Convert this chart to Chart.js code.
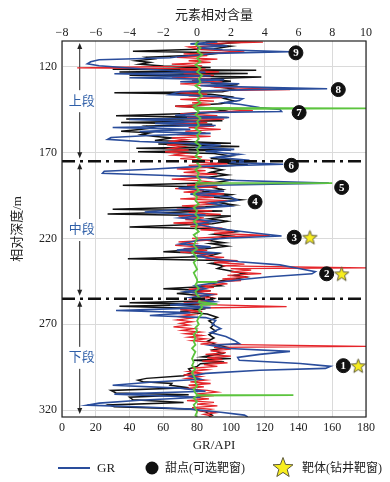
<!DOCTYPE html>
<html>
<head>
<meta charset="utf-8">
<script src="https://cdn.jsdelivr.net/npm/chart.js@4.4.0/dist/chart.umd.min.js"></script>
<style>
  html, body { margin: 0; padding: 0; background: #fff; }
</style>
</head>
<body>
<canvas id="chart" width="390" height="482"></canvas>
<script>
const SERIF = "'Liberation Serif', 'Times New Roman', 'Noto Sans CJK SC', serif";
const CJK = "'Liberation Serif', 'Noto Sans CJK SC', sans-serif";

// axis ticks
const depthTicks = [120, 170, 220, 270, 320];

// GR log (bottom axis, API) against depth (m)
const grDepth = [104.9,105.5,106.7,107.8,108.9,110.1,111.3,112.2,113.0,114.0,
  114.8,115.9,117.1,118.3,119.4,121.2,122.3,123.2,124.1,125.2,
  126.4,127.5,128.7,129.9,131.0,131.6,132.8,133.3,134.5,136.2,
  137.4,138.6,139.7,140.9,142.0,143.8,144.9,146.1,146.7,148.4,
  149.6,150.7,151.9,153.0,154.2,155.4,156.5,157.7,158.8,160.0,
  161.2,162.3,163.5,164.6,165.8,167.0,168.1,169.3,171.0,172.8,
  174.5,175.7,176.8,178.0,179.7,180.9,182.0,183.2,184.3,186.1,
  187.8,189.0,190.7,192.5,194.2,195.9,197.7,199.4,201.2,202.9,
  204.6,206.4,208.1,209.9,211.6,213.3,215.1,216.8,218.6,219.7,
  220.9,223.2,224.9,226.7,228.4,230.1,231.9,233.6,235.4,237.7,
  239.4,240.6,242.3,244.1,245.8,247.5,249.3,251.0,252.8,254.5,
  256.8,258.6,260.3,262.0,263.2,264.9,266.1,267.8,270.1,272.5,
  274.8,277.1,279.4,281.2,282.3,284.1,285.8,287.5,289.3,291.0,
  292.8,294.5,295.7,296.8,298.6,300.3,302.0,303.8,305.5,307.2,
  309.0,310.7,312.5,314.2,315.9,317.1,318.3,319.4,321.2,322.9,
  324];
const grValue = [85,92,76,98,80,95,135,90,82,70,
  64,22,17,15,22,46,67,85,31,88,
  40,96,70,105,82,99,157,111,70,64,
  94,107,105,96,106,117,129,130,82,67,
  99,40,82,55,91,30,76,46,88,52,
  29,27,46,76,94,79,102,85,105,91,
  111,99,131,82,52,25,24,58,85,99,
  158,90,69,96,76,100,104,88,99,73,
  49,85,70,91,79,88,99,114,130,99,
  82,70,88,68,91,79,90,105,129,141,
  150,148,123,105,91,79,85,73,88,76,
  90,64,88,32,76,52,85,91,89,94,
  88,97,102,105,88,99,135,117,104,105,
  141,159,156,117,85,76,82,52,30,70,
  85,31,82,46,22,15,52,76,94,108,
  110];

// element relative content (top axis), black curve
const blackDepth = [105,106,107,108,109.5,111,111.8,113,114.5,115.5,
  116.5,117.5,118.5,119.5,120.5,121.5,122,123,124,125,
  126,127,128.5,129.5,130.5,131.5,133,134.5,135.1,136,
  137.5,138.5,140,141.5,143,144,145.5,147,148.5,149.5,
  150.5,151.5,152.5,153.5,154.5,155.5,156.5,157.5,158.5,159.5,
  160.5,161.5,163,164.5,165,166.5,167.5,168.5,169.5,170.5,
  172,173.5,175,176,177,178.5,180,181.5,183,184.5,
  186,187.5,189,190,191.5,193,194.5,196,197.5,199,
  200.5,201.5,203,204,205.8,207,208.5,210,211.5,213.3,
  214.5,216,217.5,218.6,219.7,221,222.5,223,224.5,226,
  227.8,229,230.5,231.9,233,234.5,236,237.5,239,240.5,
  241.5,242.5,243.5,244.5,246,247.5,249.3,250.5,252,253.5,
  255,256.5,257.5,258.5,259.5,261,262.5,264,266,268,
  270,272,274,276,278,280,282,283.5,285,287,
  289,290,291,292,293,294.5,296,298,300,301.5,
  302.5,303.5,304.5,305.5,307,308.5,310,311,312.5,314,
  315.5,317,318,319.5,321,323,324];
const blackValue = [1.5,2.2,0.8,2.0,1.0,-3.8,1.5,0.5,-3.0,-2.6,
  -3.6,-2.8,-3.4,-2.0,0.8,-5.0,3.5,-4.6,3.0,-4.0,
  3.8,0.5,2.0,0.8,2.4,1.0,2.2,1.5,-4.9,0.8,
  2.0,1.6,2.2,1.4,-1.3,0.8,1.6,0.4,-4.8,1.8,
  -4.2,1.5,-4.5,0.9,-3.0,-2.6,-3.4,-4.5,-2.8,-3.3,
  -2.6,-1.5,-2.5,2.0,-2.3,2.5,-3.6,2.0,-3.5,1.0,
  2.0,0.8,3.1,1.2,3.0,0.5,1.5,0.8,1.8,0.5,
  2.0,1.0,-4.4,0.8,1.5,0.3,2.0,1.0,2.6,1.2,
  2.2,0.5,-5.0,1.5,-5.3,2.0,0.7,1.8,0.9,-4.0,
  1.5,2.4,1.0,2.0,1.4,0.6,1.6,0.8,1.8,0.5,
  -2.0,1.2,0.6,-4.1,2.2,0.8,1.6,1.2,2.0,2.8,
  2.2,2.9,2.3,1.5,0.8,1.4,-2.0,0.8,-1.2,0.5,
  1.0,0.3,-4.0,0.8,-4.6,0.5,-1.0,0.6,1.2,0.7,
  1.0,0.8,1.1,0.7,1.0,0.6,1.2,1.8,0.9,1.5,
  0.3,2.0,-0.2,1.6,0.2,0.0,-0.5,-0.3,-0.8,-3.0,
  -3.5,-3.2,-1.5,-1.6,-0.5,-5.1,-4.8,-0.5,-4.0,-3.8,
  -0.8,-5.2,-4.9,-0.2,0.5,0.9,0.7];

// element relative content, red curve
const redDepth = [105,105.6,106.5,107.5,108.5,110,111.3,112.5,113.5,114.5,
  115.5,116.5,117.5,118.5,119.5,120.6,121.2,122,123,124,
  125,126,127,128,129,130,131,132,133.3,134,
  135,136,137,138,139,140,141,142,143,144,
  145.5,146.5,147.5,148.5,149.5,150.5,151.5,152.5,153.5,154.5,
  155.5,156.5,157.5,158.5,159.5,160.5,161.5,162.5,163.5,164.5,
  165.5,166.5,167.5,168.5,169.5,170.5,171.5,172.5,173.5,174.5,
  175.5,176.5,177.5,178.5,179.5,180.5,181.5,182.5,183.5,184.5,
  185.5,186.5,187.8,189,190,191,192,193,194,195,
  196,197,198,199,200,201,202,203,204,205,
  206,207,208,209,210,211,212,213,214,215,
  216,217,218.3,219,220,221,222,223,224,225,
  226,227,228,229,230,231,232,233,234,235,
  236,237.1,237.6,238.5,239.5,240.5,241.5,242.5,243.5,244.5,
  245.5,246.5,247.5,248.5,249.5,250.5,251.5,252.5,253.5,254.5,
  255.5,256.5,257.5,258.5,259.7,260.5,261.5,262.5,263.5,264.5,
  265.5,266.5,267.5,268.5,269.5,270.5,271.5,272.5,273.5,274.5,
  275.5,276.5,277.5,278.5,279.5,280.5,281.5,282.9,283.5,284.5,
  285.5,286.5,287.5,288.5,289.5,290.5,291.5,292.5,293.5,294.5,
  295.5,296.5,297.5,298.5,299.5,300.5,301.5,302.5,303.5,304.5,
  305.5,306.5,307.5,308.5,309.5,310.5,311.5,312.5,313.5,314.5,
  315.5,316.5,317.5,318.5,319.5,320.5,321.5,322.5,323.5];
const redValue = [1.0,3.9,0.5,1.5,-0.5,0.2,2.8,-0.8,0.6,-1.2,
  1.2,-0.5,0.8,-1.5,0.3,-7.1,0.5,-1.0,1.3,-0.8,
  1.0,-1.5,0.8,-0.3,1.5,-1.0,0.4,1.2,5.5,0.2,
  -1.2,0.6,-0.5,1.5,-1.0,1.0,-0.3,0.8,-1.3,0.5,
  3.3,0.4,-1.0,1.2,-0.6,1.6,-0.8,0.6,-1.4,1.0,
  -0.5,1.4,-0.7,0.5,-1.2,0.8,-1.5,-0.6,-1.7,-0.4,
  -1.8,-0.8,-1.6,-0.5,-1.9,-0.7,-1.4,0.3,-1.0,0.8,
  -0.3,1.8,-0.5,1.0,-1.2,0.5,-0.8,1.2,-1.0,0.6,
  -1.5,0.2,1.5,-0.6,1.2,-1.3,0.4,-0.8,1.6,-0.2,
  1.0,-1.0,1.8,0.0,1.2,-0.9,0.5,-1.2,0.9,-0.5,
  1.4,-1.1,0.4,-0.7,1.1,-1.4,0.7,-0.4,1.5,0.2,
  2.2,1.0,4.3,1.5,-0.3,0.8,-1.1,-0.2,-1.3,0.4,
  -0.8,0.6,-1.0,1.0,0.0,1.6,0.5,2.4,1.0,2.8,
  1.5,10,2.0,3.2,2.0,3.8,1.8,3.0,1.5,2.6,
  0.8,1.8,0.2,1.0,-0.5,0.8,-0.3,1.2,0.0,0.8,
  -0.5,1.0,-0.8,0.5,5.3,0.2,-1.0,0.3,-1.3,-0.2,
  -1.1,-0.4,-1.2,-0.3,-1.0,-0.5,-1.4,-0.2,-0.9,0.2,
  -0.7,0.3,-0.5,0.5,-0.3,0.9,0.2,10,1.0,2.0,
  0.8,1.7,0.5,2.0,0.6,1.5,0.3,1.8,0.4,1.2,
  -0.3,0.6,-0.5,0.3,-0.8,0.2,-0.6,0.5,-0.4,0.8,
  -0.5,0.4,-0.8,0.6,1.2,0.0,1.0,-0.4,0.7,-0.6,
  1.0,0.0,1.2,-0.3,0.8,0.2,1.1,0.4,0.9];

// element relative content, green curve
const greenDepth = [105,107,109,111,113,115,117,119,121,123,
  125,127,129,131,133,135,137,139,141,143,
  144.0,144.3,144.6,146,148,150,152,154,156,158,
  160,162,164,166,168,170,172,174,176,178,
  180,182,184,186,187.6,187.8,188.1,190,192,194,
  196,198,200,202,204,206,208,210,212,214,
  216,218,220,222,224,226,228,230,232,234,
  236,238,240,242,244,245.1,245.3,245.5,247,249,
  251,253,255,257,258.3,258.6,260,262,264,266,
  268,270,272,274,276,278,280,282,284,286,
  288,290,292,294,296,298,300,302,304,306,
  308,310,311.1,311.3,311.5,313,315,317,319,321,
  323,324];
const greenValue = [0.1,-0.1,0.2,0.0,0.3,0.0,0.2,-0.1,0.2,0.0,
  0.3,0.1,0.2,-0.1,0.2,0.1,0.3,0.0,0.2,-0.2,
  0.0,10,-0.1,0.1,-0.1,0.2,0.0,0.1,-0.1,0.2,
  0.0,0.1,-0.1,0.2,0.0,0.1,-0.1,0.2,0.0,0.2,
  -0.1,0.1,0.0,0.2,0.0,8.0,0.0,-0.1,0.1,-0.2,
  0.0,-0.1,0.1,-0.2,0.0,-0.1,0.1,-0.2,0.0,-0.1,
  0.1,-0.2,0.0,-0.1,-0.2,0.0,-0.3,-0.1,0.0,-0.2,
  -0.1,0.0,-0.2,-0.1,0.0,0.0,1.2,0.0,-0.1,0.1,
  -0.1,0.0,0.2,0.1,1.2,0.2,0.3,0.1,0.3,0.1,
  0.0,0.1,-0.1,0.0,-0.2,-0.1,-0.2,-0.1,-0.3,-0.1,
  -0.2,-0.3,-0.2,-0.3,-0.1,-0.3,-0.2,-0.1,-0.1,0.0,
  -0.2,-0.1,0.0,5.7,0.0,-0.2,0.0,-0.2,-0.1,0.0,
  -0.1,0.0];

// numbered sweet spots and target stars
const markerLabels = ['9', '8', '7', '6', '5', '4', '3', '2', '1'];
const markerGR = [138.5, 163.6, 140.4, 135.8, 165.6, 114.3, 137.5, 156.7, 166.6];
const markerDepth = [111.9, 133.3, 146.7, 177.4, 190.3, 198.7, 219.3, 240.6, 294.1];
const starGR = [146.8, 165.6, 175.4];
const starDepth = [219.3, 240.6, 294.1];

// interval boundaries and names
const boundaryDepth = [175.1, 255.1];
const segmentBounds = [105, 175.1, 255.1, 324];
const segmentNames = ['上段', '中段', '下段'];
const arrowGR = 10.5;

const toPoints = (depth, vals) => depth.map((d, i) => ({x: vals[i], y: d}));

function drawStar(g, cx, cy, r) {
  g.beginPath();
  for (let i = 0; i < 10; i++) {
    const rad = i % 2 ? r * 0.42 : r;
    const a = -Math.PI / 2 + i * Math.PI / 5;
    g.lineTo(cx + rad * Math.cos(a), cy + rad * Math.sin(a));
  }
  g.closePath();
  g.fillStyle = '#f8ee1e';
  g.fill();
  g.strokeStyle = '#5e5a3a';
  g.lineWidth = 1;
  g.stroke();
}

function starImage(r) {
  const c = document.createElement('canvas');
  const s = Math.ceil(r * 2 + 4);
  c.width = s; c.height = s;
  drawStar(c.getContext('2d'), s / 2, s / 2 + r * 0.1, r);
  return c;
}

const boundarySets = boundaryDepth.map(d => ({
  data: [{x: 0, y: d}, {x: 180, y: d}],
  xAxisID: 'x',
  showLine: true,
  borderColor: '#111',
  borderWidth: 2.5,
  borderDash: [13, 5, 3, 5],
  pointRadius: 0,
  order: 1
}));

const overlay = {
  id: 'overlay',
  beforeDatasetsDraw(chart) {
    const {ctx, scales: {x, y}} = chart;
    const ax = x.getPixelForValue(arrowGR);
    ctx.save();
    ctx.strokeStyle = '#222';
    ctx.fillStyle = '#222';
    ctx.lineWidth = 1;
    for (let i = 0; i < segmentNames.length; i++) {
      const top = y.getPixelForValue(segmentBounds[i]) + 2;
      const bot = y.getPixelForValue(segmentBounds[i + 1]) - 3;
      const mid = y.getPixelForValue((segmentBounds[i] + segmentBounds[i + 1]) / 2);
      ctx.beginPath();
      ctx.moveTo(ax, top + 5); ctx.lineTo(ax, mid - 11);
      ctx.moveTo(ax, mid + 11); ctx.lineTo(ax, bot - 5);
      ctx.stroke();
      ctx.beginPath();
      ctx.moveTo(ax, top); ctx.lineTo(ax - 2.5, top + 6); ctx.lineTo(ax + 2.5, top + 6);
      ctx.closePath(); ctx.fill();
      ctx.beginPath();
      ctx.moveTo(ax, bot); ctx.lineTo(ax - 2.5, bot - 6); ctx.lineTo(ax + 2.5, bot - 6);
      ctx.closePath(); ctx.fill();
    }
    ctx.font = '13px ' + CJK;
    ctx.fillStyle = '#2f5fa8';
    ctx.textAlign = 'center';
    ctx.textBaseline = 'middle';
    for (let i = 0; i < segmentNames.length; i++) {
      const mid = y.getPixelForValue((segmentBounds[i] + segmentBounds[i + 1]) / 2);
      ctx.fillText(segmentNames[i], ax + 2, mid);
    }
    ctx.restore();
  },
  afterDatasetsDraw(chart) {
    const {ctx, chartArea: a} = chart;
    ctx.save();
    ctx.strokeStyle = '#222';
    ctx.lineWidth = 1.2;
    ctx.strokeRect(a.left, a.top, a.right - a.left, a.bottom - a.top);

    // numbers on the black circles
    const meta = chart.getDatasetMeta(0);
    ctx.font = 'bold 11px ' + SERIF;
    ctx.fillStyle = '#fff';
    ctx.textAlign = 'center';
    ctx.textBaseline = 'middle';
    meta.data.forEach((p, i) => ctx.fillText(markerLabels[i], p.x, p.y + 0.5));

    // legend
    const ly = 468;
    ctx.strokeStyle = '#2a4d9c';
    ctx.lineWidth = 2;
    ctx.beginPath(); ctx.moveTo(58, ly); ctx.lineTo(90, ly); ctx.stroke();
    ctx.fillStyle = '#111';
    ctx.beginPath(); ctx.arc(152, ly, 6.5, 0, Math.PI * 2); ctx.fill();
    drawStar(ctx, 283, ly, 10.5);
    ctx.fillStyle = '#222';
    ctx.textAlign = 'left';
    ctx.font = '13px ' + SERIF;
    ctx.fillText('GR', 97, ly + 1);
    ctx.font = '12px ' + CJK;
    ctx.fillText('甜点(可选靶窗)', 165, ly + 1);
    ctx.fillText('靶体(钻井靶窗)', 302, ly + 1);
    ctx.restore();
  }
};

const tickFont = {family: SERIF, size: 12};
const titleFont = {family: CJK, size: 13};

new Chart(document.getElementById('chart'), {
  type: 'scatter',
  data: {
    datasets: [
      {
        data: toPoints(markerDepth, markerGR),
        xAxisID: 'x',
        pointStyle: 'circle',
        pointRadius: 7,
        pointBackgroundColor: '#111',
        pointBorderColor: '#111',
        clip: false,
        order: 0
      },
      {
        data: toPoints(starDepth, starGR),
        xAxisID: 'x',
        pointStyle: starImage(7.5),
        clip: false,
        order: 0
      },
      ...boundarySets,
      {
        data: toPoints(greenDepth, greenValue),
        xAxisID: 'x2',
        showLine: true,
        borderColor: '#5cc43e',
        borderWidth: 1.8,
        pointRadius: 0,
        order: 2
      },
      {
        data: toPoints(grDepth, grValue),
        xAxisID: 'x',
        showLine: true,
        borderColor: '#2a4d9c',
        borderWidth: 1.6,
        pointRadius: 0,
        order: 3
      },
      {
        data: toPoints(redDepth, redValue),
        xAxisID: 'x2',
        showLine: true,
        borderColor: '#e5252a',
        borderWidth: 1.3,
        pointRadius: 0,
        order: 4
      },
      {
        data: toPoints(blackDepth, blackValue),
        xAxisID: 'x2',
        showLine: true,
        borderColor: '#111',
        borderWidth: 1.5,
        pointRadius: 0,
        order: 5
      }
    ]
  },
  options: {
    responsive: false,
    animation: false,
    layout: {padding: {left: 0, right: 24, top: 0, bottom: 27}},
    plugins: {legend: {display: false}, tooltip: {enabled: false}},
    scales: {
      x: {
        type: 'linear', position: 'bottom', min: 0, max: 180,
        ticks: {stepSize: 20, padding: 4, color: '#222', font: tickFont},
        grid: {color: '#dadada', drawTicks: false},
        border: {display: false},
        title: {display: true, text: 'GR/API', color: '#222', font: titleFont, padding: {top: 0, bottom: 2}},
        afterFit(s) { s.height = 38; }
      },
      x2: {
        type: 'linear', position: 'top', min: -8, max: 10,
        ticks: {stepSize: 2, padding: 1, color: '#222', font: tickFont,
          callback: v => v < 0 ? '\u2212' + Math.abs(v) : String(v)},
        grid: {display: false, drawTicks: false},
        border: {display: false},
        title: {display: true, text: '元素相对含量', color: '#222', font: titleFont, padding: {top: 8, bottom: 0}},
        afterFit(s) { s.height = 41; }
      },
      y: {
        type: 'linear', position: 'left', reverse: true, min: 105, max: 324,
        afterBuildTicks(s) { s.ticks = depthTicks.map(v => ({value: v})); },
        ticks: {padding: 5, color: '#222', font: tickFont},
        grid: {color: '#dadada', drawTicks: false},
        border: {display: false},
        title: {display: true, text: '相对深度/m', color: '#222', font: titleFont, padding: {top: 10, bottom: 0}},
        afterFit(s) { s.width = 62; }
      }
    }
  },
  plugins: [overlay]
});
</script>
</body>
</html>
